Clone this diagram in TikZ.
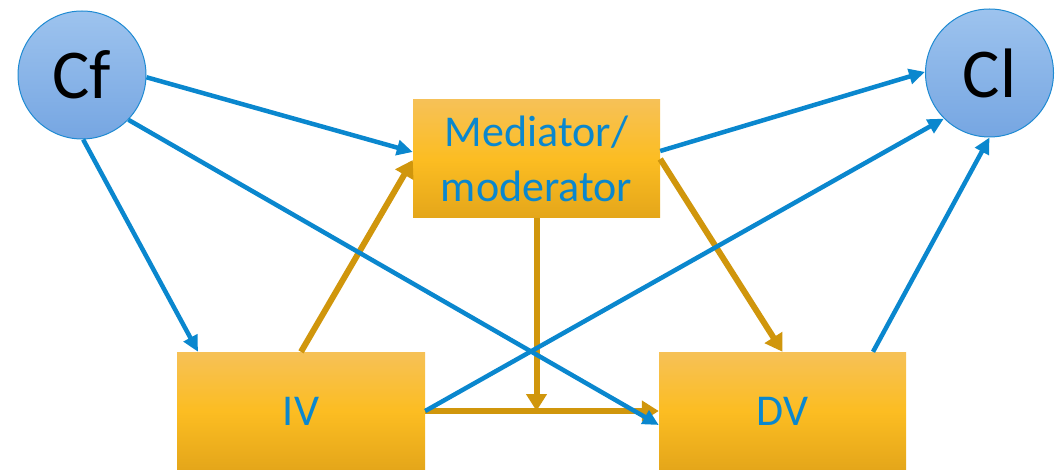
\documentclass[tikz,border=0pt]{standalone}
\usepackage{fontspec}
\setmainfont{Carlito}
\usetikzlibrary{arrows.meta,calc}

\definecolor{linkblue}{HTML}{0A87CE}
\definecolor{linkgold}{HTML}{D0960C}
\definecolor{circtop}{HTML}{9DC3EE}
\definecolor{circbot}{HTML}{76A6E2}
\definecolor{circedge}{HTML}{1E8AD2}
\definecolor{boxtop}{HTML}{F6C157}
\definecolor{boxmid}{HTML}{FCBD22}
\definecolor{boxbot}{HTML}{E4A61A}

\tikzset{
  factor/.style={circle, minimum size=128pt, inner sep=0pt, draw=circedge,
    line width=1pt, top color=circtop, bottom color=circbot,
    font=\fontsize{70}{80}\selectfont, text=black},
  varbox/.style={rectangle, inner sep=0pt, minimum height=118pt,
    top color=boxtop, bottom color=boxbot, middle color=boxmid,
    font=\fontsize{44}{55}\selectfont, text=linkblue, align=center},
  bluelink/.style={draw=linkblue, line width=4.5pt,
    -{Triangle[length=16pt,width=15pt]}},
  goldlink/.style={draw=linkgold, line width=6pt,
    -{Triangle[length=17pt,width=20pt]}},
}

\begin{document}
\begin{tikzpicture}[x=1pt,y=-1pt]
  \useasboundingbox (0,0) rectangle (1059,470);

  % variables
  \node[factor] (cf) at (82,75) {Cf};
  \node[factor] (cl) at (989.5,73) {Cl};
  \node[varbox, minimum width=247pt] (med) at (536.5,159) {Mediator/\\moderator};
  \node[varbox, minimum width=248pt] (iv) at (301,411) {IV};
  \node[varbox, minimum width=247pt] (dv) at (782.5,411) {DV};

  % point where the moderator acts on the IV-DV path
  \coordinate (join) at (med.south |- iv.east);

  % causal paths through the mediator
  \draw[goldlink] (iv.north) -- ([yshift=-1pt]med.west);
  \draw[goldlink] (med.east) -- (dv.north);
  \draw[goldlink] (iv.east) -- (dv.west);
  \draw[goldlink] (med.south) -- (join);

  % confounder and collider paths
  \draw[bluelink] (cf.-2) -- ([yshift=7pt]med.west);
  \draw[bluelink] (cf.-89) -- ([xshift=-103pt]iv.north);
  \draw[bluelink] (cf.-44) -- ([yshift=-14pt]dv.west);
  \draw[bluelink] ([yshift=8pt]med.east) -- (cl.179);
  \draw[bluelink] (iv.east) -- (cl.-135);
  \draw[bluelink] ([xshift=90.5pt]dv.north) -- (cl.-90);
\end{tikzpicture}
\end{document}
